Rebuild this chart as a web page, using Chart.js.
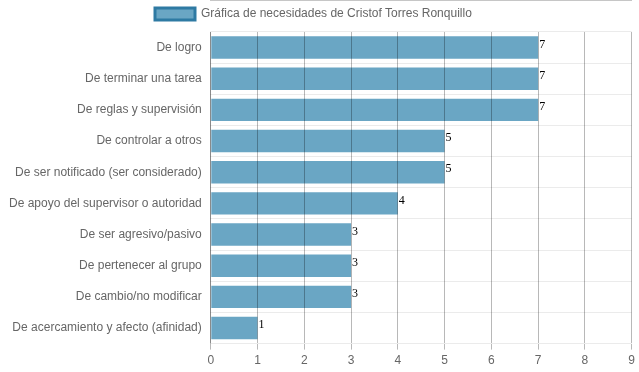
<!DOCTYPE html>
<html>
<head>
<meta charset="utf-8">
<script src="https://cdn.jsdelivr.net/npm/chart.js@4/dist/chart.umd.min.js"></script>
<style>
  html, body { margin: 0; padding: 0; background: #fff; overflow: hidden; }
  #wrap { width: 639px; height: 372px; }
</style>
</head>
<body>
<div id="wrap"><canvas id="chart"></canvas></div>
<script>
const categories = [
  'De logro',
  'De terminar una tarea',
  'De reglas y supervisión',
  'De controlar a otros',
  'De ser notificado (ser considerado)',
  'De apoyo del supervisor o autoridad',
  'De ser agresivo/pasivo',
  'De pertenecer al grupo',
  'De cambio/no modificar',
  'De acercamiento y afecto (afinidad)'
];
const values = [7, 7, 7, 5, 5, 4, 3, 3, 3, 1];
const seriesLabel = 'Gráfica de necesidades de Cristof Torres Ronquillo';

Chart.defaults.font.family = 'Arial, "Liberation Sans", sans-serif';
Chart.defaults.font.size = 12;
Chart.defaults.color = '#666';

/** Draw the legend by hand and the value next to each bar. */
const extras = {
  id: 'extras',
  afterDraw(chart) {
    const ctx = chart.ctx;
    ctx.save();
    ctx.font = '12px Arial, "Liberation Sans", sans-serif';
    const textW = ctx.measureText(seriesLabel).width;
    const total = 40 + 6 + textW;
    const x0 = Math.round((chart.width - total) / 2) - 6;
    ctx.fillStyle = '#6aa6c4';
    ctx.strokeStyle = '#2e7aa3';
    ctx.lineWidth = 3;
    ctx.fillRect(x0, 8, 40, 12);
    ctx.strokeRect(x0, 8, 40, 12);
    ctx.fillStyle = '#666';
    ctx.textAlign = 'left';
    ctx.textBaseline = 'middle';
    ctx.fillText(seriesLabel, x0 + 46, 14);
    ctx.restore();
  },
  afterDatasetsDraw(chart) {
    const ctx = chart.ctx;
    const meta = chart.getDatasetMeta(0);
    ctx.save();
    ctx.font = '12px serif';
    ctx.fillStyle = '#000';
    ctx.textAlign = 'left';
    ctx.textBaseline = 'middle';
    meta.data.forEach((bar, i) => {
      ctx.fillText(values[i], bar.x + 1, bar.y - 3);
    });
    ctx.restore();
  }
};

const config = {
  type: 'bar',
  data: {
    labels: categories,
    datasets: [
      {
        label: seriesLabel,
        data: values,
        backgroundColor: '#6aa6c4',
        borderColor: '#2e7aa3',
        borderWidth: 0,
        categoryPercentage: 0.8,
        barPercentage: 0.9
      }
    ]
  },
  options: {
    indexAxis: 'y',
    responsive: true,
    maintainAspectRatio: false,
    animation: false,
    layout: { padding: { left: 0, right: 5, top: 32, bottom: 0 } },
    plugins: {
      legend: { display: false },
      tooltip: { enabled: false }
    },
    scales: {
      x: {
        min: 0,
        max: 9,
        ticks: { stepSize: 1, padding: 4 },
        grid: { color: 'rgba(0,0,0,0.28)', z: 1, tickLength: 6 },
        border: { color: 'rgba(0,0,0,0.45)' }
      },
      y: {
        ticks: { padding: 9 },
        grid: { color: 'rgba(0,0,0,0.08)', offset: true, tickLength: 0 },
        border: { color: 'rgba(0,0,0,0.25)' }
      }
    }
  },
  plugins: [extras]
};

new Chart(document.getElementById('chart').getContext('2d'), config);
</script>
</body>
</html>
